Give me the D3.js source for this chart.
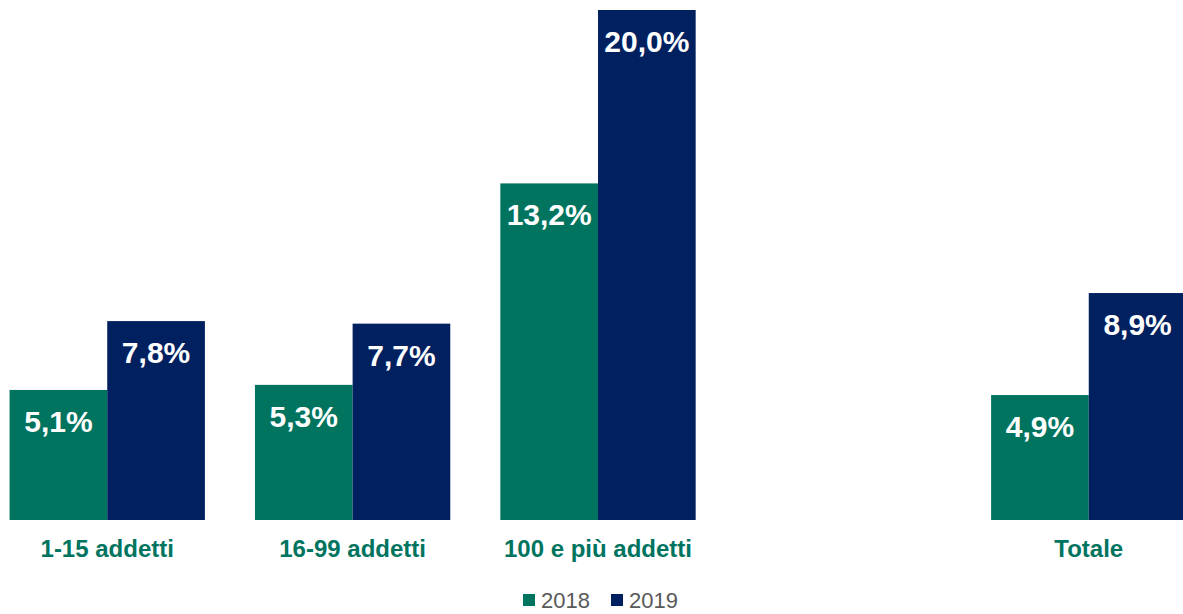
<!DOCTYPE html>
<html>
<head>
<meta charset="utf-8">
<script src="https://cdn.jsdelivr.net/npm/d3@7"></script>
<style>
  body { margin: 0; background: #fff; }
  svg { display: block; font-family: "Liberation Sans", Arial, sans-serif; }
</style>
</head>
<body>
<div id="chart"></div>
<script>
// data
const categories = ['1-15 addetti', '16-99 addetti', '100 e più addetti', ' ', 'Totale'];
const years = ['2018', '2019'];
const values2018 = [5.1, 5.3, 13.2, null, 4.9];
const values2019 = [7.8, 7.7, 20.0, null, 8.9];
const colors = ['#00745f', '#002060'];

const width = 1183, height = 614;

const svg = d3.select('#chart').append('svg')
  .attr('width', width)
  .attr('height', height);

const x = d3.scaleBand()
  .domain(categories)
  .range([0, 1196])
  .paddingInner(0.204)
  .paddingOuter(0.039);

const xi = d3.scaleBand()
  .domain(years)
  .range([0, x.bandwidth()]);

const y = d3.scaleLinear()
  .domain([0, 20])
  .range([520, 10]);

const rows = [];
categories.forEach((c, i) => {
  [values2018[i], values2019[i]].forEach((v, j) => {
    if (v != null) rows.push({ cat: c, year: years[j], value: v, color: colors[j] });
  });
});

const fmt = v => d3.format('.1f')(v).replace('.', ',') + '%';

svg.append('g').selectAll('rect')
  .data(rows)
  .join('rect')
  .attr('x', d => x(d.cat) + xi(d.year))
  .attr('y', d => y(d.value))
  .attr('width', xi.bandwidth())
  .attr('height', d => y(0) - y(d.value))
  .attr('fill', d => d.color);

svg.append('g').selectAll('text')
  .data(rows)
  .join('text')
  .attr('x', d => x(d.cat) + xi(d.year) + xi.bandwidth() / 2)
  .attr('y', d => y(d.value) + 42)
  .attr('text-anchor', 'middle')
  .attr('fill', '#fff')
  .attr('font-weight', 'bold')
  .attr('font-size', 30)
  .text(d => fmt(d.value));

// category labels
svg.append('g').selectAll('text')
  .data(categories)
  .join('text')
  .attr('x', d => x(d) + x.bandwidth() / 2)
  .attr('y', 557)
  .attr('text-anchor', 'middle')
  .attr('fill', '#00745f')
  .attr('font-weight', 'bold')
  .attr('font-size', 24)
  .text(d => d);

// legend
const legendX = [523, 611];
const legend = svg.append('g').selectAll('g')
  .data(years)
  .join('g')
  .attr('transform', (d, i) => `translate(${legendX[i]},594)`);
legend.append('rect')
  .attr('width', 12).attr('height', 12)
  .attr('fill', (d, i) => colors[i]);
legend.append('text')
  .attr('x', 18).attr('y', 14)
  .attr('fill', '#595959')
  .attr('font-size', 22)
  .text(d => d);
</script>
</body>
</html>
